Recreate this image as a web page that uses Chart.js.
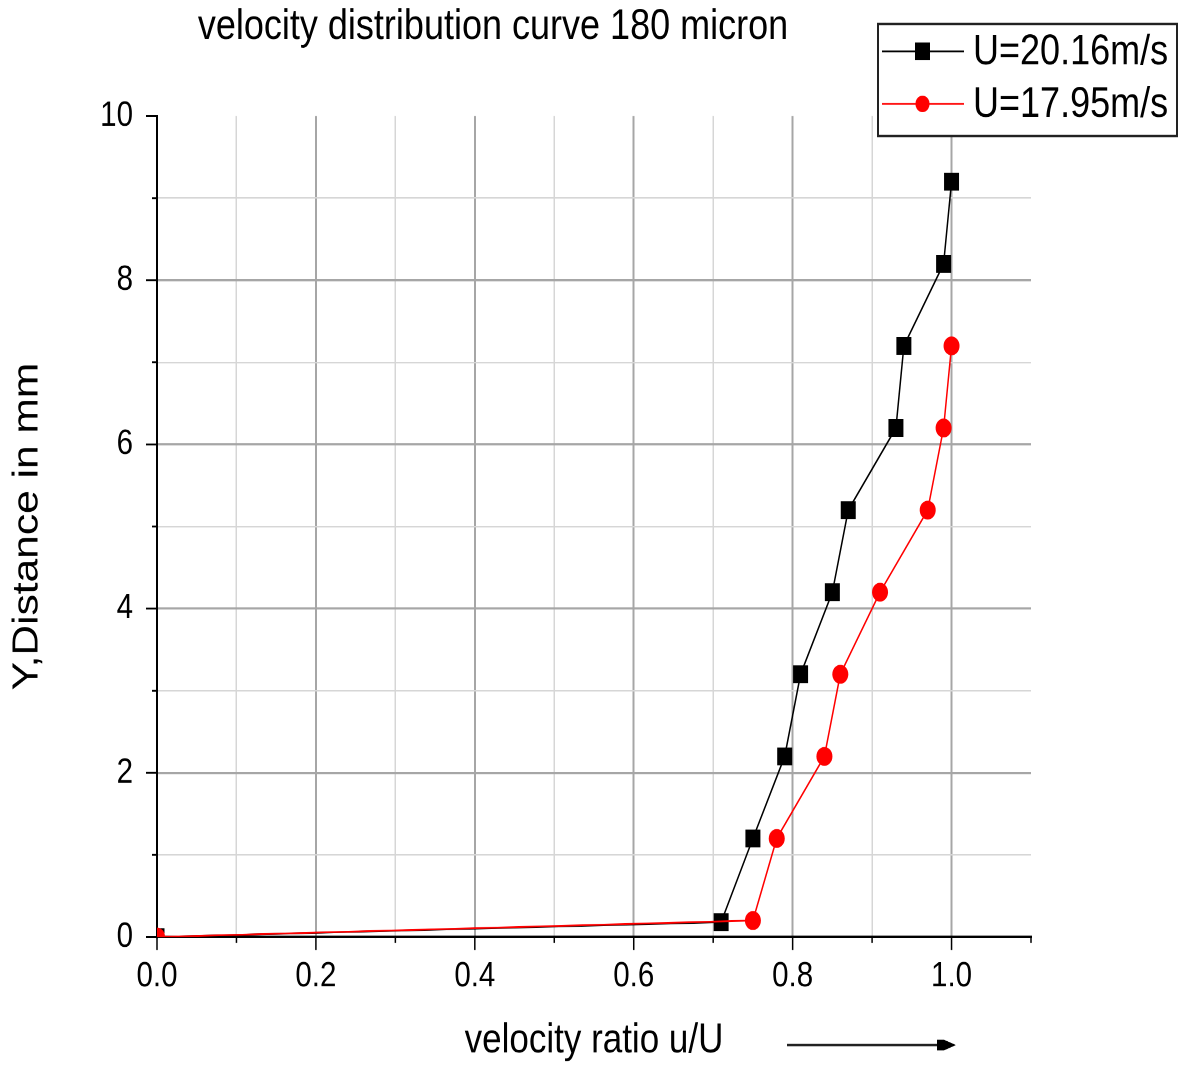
<!DOCTYPE html>
<html><head><meta charset="utf-8">
<script src="https://cdn.jsdelivr.net/npm/chart.js@4/dist/chart.umd.min.js"></script>
<style>
html{overflow:hidden;background:#fff;}
body{margin:0;padding:0;background:#fff;width:1181px;height:1066px;}
#wrap{width:1181px;height:903px;transform:scale(1,1.1805);transform-origin:0 0;}
</style></head><body>
<div id="wrap"><canvas id="c" width="1181" height="903"></canvas></div>
<script>
const chartTitle = 'velocity distribution curve 180 micron';
const xTitle = 'velocity ratio u/U';
const yTitle = 'Y,Distance in mm';
const seriesNames = ['U=20.16m/s', 'U=17.95m/s'];
const blackX = [0, 0.71, 0.75, 0.79, 0.81, 0.85, 0.87, 0.93, 0.94, 0.99, 1.00];
const blackY = [0, 0.18, 1.2, 2.2, 3.2, 4.2, 5.2, 6.2, 7.2, 8.2, 9.2];
const redX = [0, 0.75, 0.78, 0.84, 0.86, 0.91, 0.97, 0.99, 1.00];
const redY = [0, 0.2, 1.2, 2.2, 3.2, 4.2, 5.2, 6.2, 7.2];
const xTickLabels = ['0.0', '0.2', '0.4', '0.6', '0.8', '1.0'];
const yTickLabels = ['0', '2', '4', '6', '8', '10'];

const FONT = '"Liberation Sans", Arial, sans-serif';
const MAJOR = '#a6a6a6', MINOR = '#d6d6d6';

const extras = {
  id: 'extras',
  afterDraw(chart) {
    const ctx = chart.ctx;
    const xs = chart.scales.x, ys = chart.scales.y;
    const ca = chart.chartArea;
    ctx.save();
    // tick marks
    ctx.strokeStyle = '#000';
    ctx.lineWidth = 1.5;
    ctx.beginPath();
    xs.ticks.forEach(t => {
      const p = xs.getPixelForValue(t.value);
      const major = Math.round(t.value * 10) % 2 === 0;
      ctx.moveTo(p, ca.bottom);
      ctx.lineTo(p, ca.bottom + (major ? 11 : 5));
    });
    ys.ticks.forEach(t => {
      const p = ys.getPixelForValue(t.value);
      const major = Math.round(t.value) % 2 === 0;
      ctx.moveTo(ca.left, p);
      ctx.lineTo(ca.left - (major ? 11 : 5), p);
    });
    ctx.stroke();
    // title
    ctx.fillStyle = '#000';
    ctx.font = '36px ' + FONT;
    ctx.textAlign = 'center';
    ctx.textBaseline = 'alphabetic';
    ctx.fillText(chartTitle, 493, 33);
    // arrow next to x title
    const ay = 885.2;
    ctx.strokeStyle = '#222';
    ctx.lineWidth = 2;
    ctx.beginPath();
    ctx.moveTo(787, ay);
    ctx.lineTo(945, ay);
    ctx.stroke();
    ctx.fillStyle = '#000';
    ctx.beginPath();
    ctx.moveTo(937, ay - 4.5);
    ctx.lineTo(944, ay - 4.5);
    ctx.lineTo(956, ay);
    ctx.lineTo(944, ay + 4.5);
    ctx.lineTo(937, ay + 4.5);
    ctx.closePath();
    ctx.fill();
    // legend
    const lx = 878, ly = 20.3, lw = 299, lh = 94.9;
    ctx.fillStyle = '#fff';
    ctx.fillRect(lx, ly, lw, lh);
    ctx.strokeStyle = '#222';
    ctx.lineWidth = 2;
    ctx.strokeRect(lx, ly, lw, lh);
    const rows = [43.5, 88];
    chart.data.datasets.forEach((ds, i) => {
      const y = rows[i];
      ctx.strokeStyle = ds.borderColor;
      ctx.lineWidth = 1.5;
      ctx.beginPath();
      ctx.moveTo(882, y);
      ctx.lineTo(964, y);
      ctx.stroke();
      ctx.fillStyle = ds.backgroundColor;
      if (ds.pointStyle === 'rect') {
        ctx.fillRect(922.5 - 7.5, y - 7.5, 15, 15);
      } else {
        ctx.beginPath();
        ctx.arc(922.5, y, 7, 0, Math.PI * 2);
        ctx.fill();
      }
      ctx.fillStyle = '#000';
      ctx.font = '36px ' + FONT;
      ctx.textAlign = 'left';
      ctx.textBaseline = 'middle';
      ctx.fillText(ds.label, 973, y + 1);
    });
    ctx.restore();
  }
};

const ds = (label, xsArr, ysArr, color, style, r, order) => ({
  label,
  data: xsArr.map((x, i) => ({ x, y: ysArr[i] })),
  borderColor: color,
  backgroundColor: color,
  borderWidth: 1.5,
  pointStyle: style,
  pointRadius: r,
  pointHoverRadius: r,
  pointBorderWidth: 0,
  pointBackgroundColor: color,
  tension: 0,
  order
});

new Chart(document.getElementById('c'), {
  type: 'line',
  data: {
    datasets: [
      ds(seriesNames[0], blackX, blackY, '#000000', 'rect', 10.6, 1),
      ds(seriesNames[1], redX, redY, '#ff0000', 'circle', 8, 0)
    ]
  },
  options: {
    responsive: false,
    devicePixelRatio: 2,
    animation: false,
    layout: { padding: { top: 98.3, right: 150, bottom: 0, left: 0 } },
    plugins: { legend: { display: false }, tooltip: { enabled: false }, title: { display: false } },
    scales: {
      x: {
        type: 'linear', min: 0, max: 1.1,
        afterFit(s) { s.height = 109.3; },
        border: { display: true, color: '#000', width: 2 },
        grid: {
          drawTicks: false,
          color: c => {
            const k = Math.round(c.tick.value * 10);
            if (k === 0 || k === 11) return 'rgba(0,0,0,0)';
            return k % 2 === 0 ? MAJOR : MINOR;
          },
          lineWidth: c => (Math.round(c.tick.value * 10) % 2 === 0 ? 2 : 1.5)
        },
        ticks: {
          stepSize: 0.1, autoSkip: false, maxRotation: 0, padding: 16,
          color: '#000', font: { family: FONT, size: 29.5 },
          callback: v => { const k = Math.round(v * 10); return k % 2 === 0 ? (xTickLabels[k / 2] ?? '') : ''; }
        },
        title: { display: true, text: xTitle, color: '#000', font: { family: FONT, size: 35 }, padding: { top: 0, bottom: 0 } }
      },
      y: {
        type: 'linear', min: 0, max: 10,
        afterFit(s) { s.width = 157; },
        border: { display: true, color: '#000', width: 2 },
        grid: {
          drawTicks: false,
          color: c => {
            const k = Math.round(c.tick.value);
            if (k === 0 || k === 10) return 'rgba(0,0,0,0)';
            return k % 2 === 0 ? MAJOR : MINOR;
          },
          lineWidth: c => (Math.round(c.tick.value) % 2 === 0 ? 1.7 : 1.3)
        },
        ticks: {
          stepSize: 1, autoSkip: false, padding: 24,
          color: '#000', font: { family: FONT, size: 29.5 },
          callback: v => { const k = Math.round(v); return k % 2 === 0 ? (yTickLabels[k / 2] ?? '') : ''; }
        },
        title: { display: true, text: yTitle, color: '#000', font: { family: FONT, size: 36 }, padding: { top: 6, bottom: 0 } }
      }
    }
  },
  plugins: [extras]
});
</script>
</body></html>
